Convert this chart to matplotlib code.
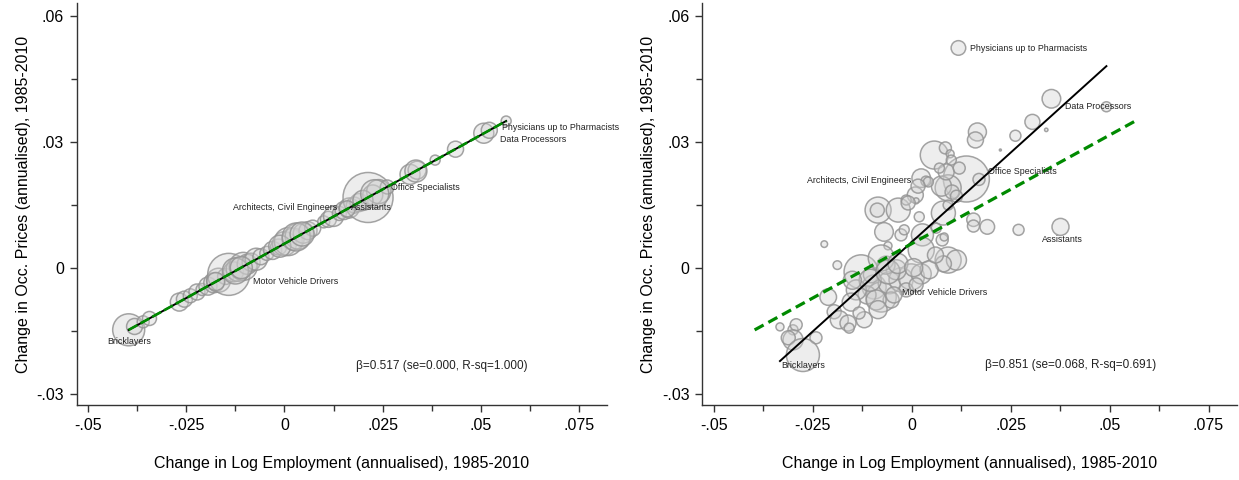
import matplotlib
matplotlib.use("Agg")
import matplotlib.pyplot as plt
import numpy as np
from matplotlib.ticker import FixedLocator, FixedFormatter

FAM = ['Liberation Sans Narrow', 'Liberation Sans', 'DejaVu Sans']
plt.rcParams['font.family'] = FAM

# ---------------- data: left panel (predicted changes) ----------------
left_x = [-0.0397, -0.0382, -0.0360, -0.0344, -0.0268, -0.0255, -0.0240, -0.0223,
          -0.0210, -0.0195, -0.0180, -0.0168, -0.0150, -0.0142, -0.0130, -0.0118,
          -0.0105, -0.0095, -0.0085, -0.0072, -0.0060, -0.0045, -0.0030, -0.0015,
          0.0000, 0.0010, 0.0022, 0.0035, 0.0048, 0.0060, 0.0072, 0.0100,
          0.0112, 0.0125, 0.0140, 0.0152, 0.0165, 0.0178, 0.0190, 0.0213,
          0.0225, 0.0240, 0.0262, 0.0320, 0.0338, 0.0384, 0.0436, 0.0508,
          0.0522, 0.0565,
          -0.0175, -0.0125, -0.0110, -0.0012, 0.0030, 0.0045, 0.0160, 0.0200,
          0.0230, 0.0335]
left_y = [-0.0148, -0.0140, -0.0129, -0.0121, -0.0082, -0.0075, -0.0067, -0.0058,
          -0.0052, -0.0044, -0.0036, -0.0030, -0.0021, -0.0016, -0.0010, -0.0004,
          0.0003, 0.0008, 0.0013, 0.0020, 0.0026, 0.0034, 0.0041, 0.0049,
          0.0057, 0.0062, 0.0068, 0.0075, 0.0082, 0.0088, 0.0094, 0.0109,
          0.0115, 0.0122, 0.0129, 0.0136, 0.0142, 0.0149, 0.0155, 0.0167,
          0.0173, 0.0181, 0.0192, 0.0222, 0.0232, 0.0256, 0.0282, 0.0320,
          0.0327, 0.0349,
          -0.0033, -0.0008, 0.0000, 0.0051, 0.0073, 0.0080, 0.0140, 0.0160,
          0.0176, 0.0230]
left_w = [16, 8, 6, 7, 9, 8, 7, 8,
          6, 9, 10, 12, 8, 21, 10, 12,
          14, 10, 9, 11, 8, 7, 9, 8,
          12, 14, 11, 13, 10, 9, 8, 6,
          8, 10, 7, 9, 10, 8, 9, 25,
          10, 12, 7, 10, 9, 5, 8, 10,
          8, 5,
          9, 13, 11, 11, 14, 12, 8, 10,
          14, 11]

# ---------------- data: right panel (actual changes) ----------------
right_x = [0.0118, 0.0353, 0.0492, 0.0305, 0.0340, 0.0262, 0.0224, 0.0166, 0.0161, 0.0057,
           0.0085, 0.0097, 0.0138, 0.0092, 0.0075, 0.0102, 0.0087, 0.0100, 0.0170, 0.0024,
           0.0036, 0.0009, 0.0011, 0.0080, 0.0092, 0.0156, 0.0156, 0.0191, 0.0270, 0.0376,
           -0.0085, -0.0087, -0.0034, -0.0014, -0.0009, -0.0070, -0.0060, -0.0027, -0.0019, 0.0019,
           0.0027, 0.0077, 0.0082, 0.0024, 0.0092, 0.0113, 0.0080, -0.0221, -0.0188, -0.0128,
           -0.0095, -0.0077, -0.0057, -0.0027, -0.0001, 0.0024, 0.0044, -0.0039, -0.0065, -0.0102,
           -0.0113, -0.0140, -0.0153, -0.0052, -0.0014, 0.0011, -0.0090, -0.0211, -0.0196, -0.0183,
           -0.0161, -0.0158, -0.0120, -0.0133, -0.0333, -0.0300, -0.0292, -0.0300, -0.0312, -0.0242,
           -0.0275, -0.0077, 0.0062, 0.0120, 0.0070, 0.0113, 0.0042, 0.0016,
           -0.0105, -0.0060, -0.0035, 0.0005, -0.0150, -0.0085, 0.0060, -0.0045]
right_y = [0.0523, 0.0402, 0.0383, 0.0347, 0.0328, 0.0314, 0.0280, 0.0323, 0.0304, 0.0268,
           0.0285, 0.0271, 0.0211, 0.0190, 0.0194, 0.0180, 0.0228, 0.0256, 0.0210, 0.0213,
           0.0206, 0.0173, 0.0159, 0.0130, 0.0149, 0.0114, 0.0099, 0.0097, 0.0090, 0.0097,
           0.0137, 0.0137, 0.0137, 0.0161, 0.0154, 0.0085, 0.0052, 0.0078, 0.0090, 0.0121,
           0.0078, 0.0066, 0.0073, 0.0042, 0.0018, 0.0018, 0.0009, 0.0056, 0.0006, -0.0010,
           -0.0046, -0.0070, -0.0036, -0.0029, -0.0022, -0.0015, -0.0005, -0.0005, 0.0006, -0.0017,
           -0.0065, -0.0053, -0.0082, -0.0077, -0.0053, -0.0041, -0.0077, -0.0070, -0.0105, -0.0124,
           -0.0132, -0.0144, -0.0124, -0.0108, -0.0141, -0.0148, -0.0136, -0.0172, -0.0167, -0.0167,
           -0.0208, 0.0023, 0.0094, 0.0237, 0.0237, 0.0170, 0.0204, 0.0194,
           -0.0030, -0.0010, 0.0010, 0.0000, -0.0030, -0.0100, 0.0030, -0.0065]
right_w = [7.3, 9.3, 5, 7.5, 1.7, 5.5, 1, 9, 8, 14,
           6, 4, 23, 13, 10, 7, 8, 5, 6, 9.3,
           5, 8, 3, 12, 5, 6.7, 6, 7.3, 5.5, 8.5,
           13, 7, 12, 5, 7, 9.3, 4, 6, 5, 5,
           11, 6, 4, 13, 13, 10, 8, 3.3, 4.3, 17,
           12, 15, 11, 12, 13, 10, 9, 10, 9, 8,
           9, 10, 9, 8, 7, 7, 10, 8.3, 7, 9,
           8, 5, 8, 6, 4, 5, 6, 10, 7, 6,
           16.5, 13, 5, 6, 5, 6, 5, 7,
           11, 12, 10, 9, 9, 9, 8, 8]

# fitted lines (coefficients)
fit_left = (0.517, 0.0057)    # slope, intercept (predicted prices)
fit_right = (0.851, 0.0061)
beta_left_txt = "\u03b2=0.517 (se=0.000, R-sq=1.000)"
beta_right_txt = "\u03b2=0.851 (se=0.068, R-sq=0.691)"

# labelled occupations: (text, x, y, ha)
labels_left = [("Physicians up to Pharmacists", 0.0555, 0.0333, 'left'),
               ("Data Processors", 0.0550, 0.0306, 'left'),
               ("Office Specialists", 0.0271, 0.0190, 'left'),
               ("Assistants", 0.0170, 0.0144, 'left'),
               ("Architects, Civil Engineers", 0.0135, 0.0144, 'right'),
               ("Motor Vehicle Drivers", -0.0081, -0.0033, 'left'),
               ("Bricklayers", -0.0396, -0.0176, 'center')]
labels_right = [("Physicians up to Pharmacists", 0.0148, 0.0522, 'left'),
                ("Data Processors", 0.0388, 0.0383, 'left'),
                ("Office Specialists", 0.0194, 0.0229, 'left'),
                ("Assistants", 0.0381, 0.0068, 'center'),
                ("Architects, Civil Engineers", 0.0000, 0.0208, 'right'),
                ("Motor Vehicle Drivers", -0.0024, -0.0059, 'left'),
                ("Bricklayers", -0.0275, -0.0232, 'center')]
beta_pos_left = (0.0183, -0.0233)
beta_pos_right = (0.0186, -0.0232)

xticks = [-0.05, -0.025, 0.0, 0.025, 0.05, 0.075]
xticklabels = ['-.05', '-.025', '0', '.025', '.05', '.075']
yticks = [-0.03, 0.0, 0.03, 0.06]
yticklabels = ['-.03', '0', '.03', '.06']
xminor = [-0.0375, -0.0125, 0.0125, 0.0375, 0.0625]
yminor = [-0.015, 0.015, 0.045]

xlabel = "Change in Log Employment (annualised), 1985-2010"
ylabel = "Change in Occ. Prices (annualised), 1985-2010"

# ---------------- drawing ----------------
fig = plt.figure(figsize=(12.39, 4.8), dpi=100)
ax1 = fig.add_axes([76.5 / 1239, 75 / 480, 530.5 / 1239, 402 / 480])
ax2 = fig.add_axes([702 / 1239, 75 / 480, 535 / 1239, 402 / 480])

FACE = (0.82, 0.82, 0.82, 0.38)
EDGE = (0.58, 0.58, 0.58, 0.85)
GREEN = '#008a00'


def bubbles(ax, x, y, w):
    w = np.asarray(w, dtype=float)
    s = (1.44 * w) ** 2
    ax.scatter(x, y, s=s, facecolors=[FACE], edgecolors=[EDGE], linewidths=1.1, zorder=2)


def fitline(ax, fit, xs, **kw):
    xr = np.array([min(xs), max(xs)])
    ax.plot(xr, fit[1] + fit[0] * xr, **kw)


def style(ax):
    ax.set_xlim(-0.0530, 0.0822)
    ax.set_ylim(-0.0327, 0.0630)
    for s in ['top', 'right']:
        ax.spines[s].set_visible(False)
    for s in ['left', 'bottom']:
        ax.spines[s].set_color('#333333')
        ax.spines[s].set_linewidth(1.0)
    ax.xaxis.set_major_locator(FixedLocator(xticks))
    ax.xaxis.set_major_formatter(FixedFormatter(xticklabels))
    ax.yaxis.set_major_locator(FixedLocator(yticks))
    ax.yaxis.set_major_formatter(FixedFormatter(yticklabels))
    ax.xaxis.set_minor_locator(FixedLocator(xminor))
    ax.yaxis.set_minor_locator(FixedLocator(yminor))
    ax.tick_params(which='major', length=5, width=1.0, color='#333333',
                   labelsize=11.5, pad=4, labelcolor='black')
    ax.tick_params(which='minor', length=4, width=1.0, color='#333333')
    ax.set_xlabel(xlabel, fontsize=11.5, labelpad=17, color='black')
    ax.set_ylabel(ylabel, fontsize=11.5, labelpad=4, color='black')


for ax, xs, ys, ws, labs, btxt, bpos in [
        (ax1, left_x, left_y, left_w, labels_left, beta_left_txt, beta_pos_left),
        (ax2, right_x, right_y, right_w, labels_right, beta_right_txt, beta_pos_right)]:
    bubbles(ax, xs, ys, ws)
    for t, lx, ly, ha in labs:
        ax.text(lx, ly, t, fontsize=6.4, ha=ha, va='center', color='#222222', zorder=5)
    ax.text(bpos[0], bpos[1], btxt, fontsize=8.5, ha='left', va='center', color='#222222')
    style(ax)

fitline(ax1, fit_left, left_x, color='black', lw=1.4, zorder=3)
fitline(ax1, fit_left, left_x, color=GREEN, lw=1.9, ls=(0, (3.8, 1.3)), zorder=4)
fitline(ax2, fit_right, right_x, color='black', lw=1.4, zorder=3)
fitline(ax2, fit_left, left_x, color=GREEN, lw=2.3, ls=(0, (3.2, 1.7)), zorder=4)

fig.savefig("out.png", dpi=100)
